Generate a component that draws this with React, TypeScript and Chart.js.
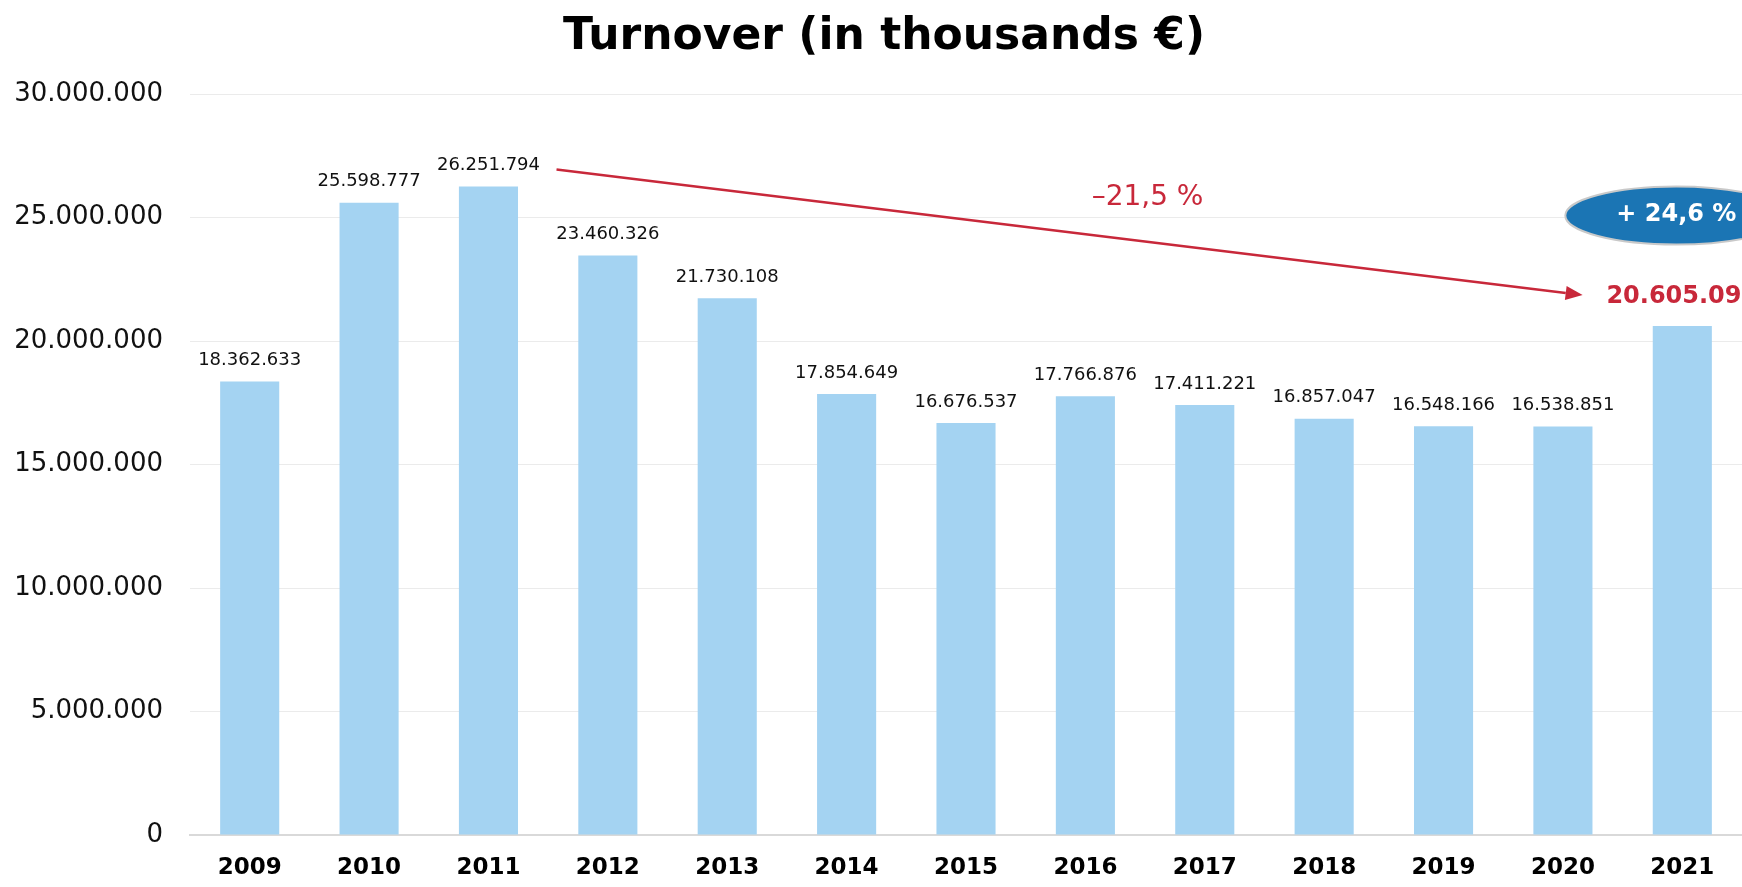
import React, { useEffect, useRef } from "react";
import { Chart, registerables } from "chart.js";

Chart.register(...registerables);

const years = ["2009", "2010", "2011", "2012", "2013", "2014", "2015", "2016", "2017", "2018", "2019", "2020", "2021"];
const turnover = [18362633, 25598777, 26251794, 23460326, 21730108, 17854649, 16676537, 17766876, 17411221, 16857047, 16548166, 16538851, 20605097];
const yMax = 30000000;
const yStep = 5000000;
const titleText = "Turnover (in thousands €)";
const declineLabel = "–21,5 %";
const growthLabel = "+ 24,6 %";
const peakIndex = 2;
const lastIndex = 12;

const FONT = "'DejaVu Sans', sans-serif";
const BAR_COLOR = "#a4d3f2";
const RED = "#c8283a";
const BLUE = "#1b75b4";

function fmt(n: number): string {
  return String(Math.round(n)).replace(/\B(?=(\d{3})+(?!\d))/g, ".");
}

const titlePlugin = {
  id: "turnoverTitle",
  afterDraw(chart: any) {
    const ctx = chart.ctx as CanvasRenderingContext2D;
    ctx.save();
    ctx.font = `bold 44px ${FONT}`;
    ctx.fillStyle = "#000";
    ctx.textAlign = "center";
    ctx.textBaseline = "middle";
    ctx.fillText(titleText, (chart.width + 26) / 2, 38);
    ctx.restore();
  },
};

const annotationPlugin = {
  id: "turnoverAnnotations",
  afterDatasetsDraw(chart: any) {
    const ctx = chart.ctx as CanvasRenderingContext2D;
    const xs = chart.scales.x;
    const ys = chart.scales.y;
    const meta = chart.getDatasetMeta(0);
    const catW = xs.getPixelForValue(1) - xs.getPixelForValue(0);
    ctx.save();
    // value labels
    meta.data.forEach((bar: any, i: number) => {
      const v = turnover[i];
      ctx.textAlign = "center";
      ctx.textBaseline = "middle";
      if (i === lastIndex) {
        ctx.font = `bold 24px ${FONT}`;
        ctx.fillStyle = RED;
        ctx.fillText(fmt(v), bar.x, bar.y - 29);
      } else {
        ctx.font = `18px ${FONT}`;
        ctx.fillStyle = "#111";
        ctx.fillText(fmt(v), bar.x, bar.y - 21);
      }
    });
    // decline arrow from peak to last year
    const sx = xs.getPixelForValue(peakIndex) + 0.57 * catW;
    const sy = ys.getPixelForValue(turnover[peakIndex]) - 17;
    const ex = xs.getPixelForValue(lastIndex) - 0.835 * catW;
    const ey = ys.getPixelForValue(turnover[lastIndex]) - 31;
    const ang = Math.atan2(ey - sy, ex - sx);
    const headLen = 17;
    const headHalf = 7;
    ctx.strokeStyle = RED;
    ctx.fillStyle = RED;
    ctx.lineWidth = 2.5;
    const bx = ex - headLen * Math.cos(ang);
    const by = ey - headLen * Math.sin(ang);
    ctx.beginPath();
    ctx.moveTo(sx, sy);
    ctx.lineTo(bx, by);
    ctx.stroke();
    ctx.beginPath();
    ctx.moveTo(ex, ey);
    ctx.lineTo(bx + headHalf * Math.sin(ang), by - headHalf * Math.cos(ang));
    ctx.lineTo(bx - headHalf * Math.sin(ang), by + headHalf * Math.cos(ang));
    ctx.closePath();
    ctx.fill();
    // decline label
    const t = 0.576;
    const lx = sx + t * (ex - sx);
    const ly = sy + t * (ey - sy) - 44;
    ctx.font = `28px ${FONT}`;
    ctx.textAlign = "center";
    ctx.textBaseline = "middle";
    ctx.fillText(declineLabel, lx, ly);
    // growth ellipse
    const cx = xs.getPixelForValue(lastIndex) - 6;
    const cy = ys.getPixelForValue(25000000) - 2;
    ctx.beginPath();
    ctx.ellipse(cx, cy, 111, 29, 0, 0, Math.PI * 2);
    ctx.fillStyle = BLUE;
    ctx.fill();
    ctx.lineWidth = 2;
    ctx.strokeStyle = "#c9c9c9";
    ctx.stroke();
    ctx.fillStyle = "#ffffff";
    ctx.font = `bold 24px ${FONT}`;
    ctx.fillText(growthLabel, cx, cy - 1);
    ctx.restore();
  },
};

export default function App() {
  const canvasRef = useRef<HTMLCanvasElement | null>(null);

  useEffect(() => {
    if (!canvasRef.current) return;
    const chart = new Chart(canvasRef.current, {
      type: "bar",
      data: {
        labels: years,
        datasets: [
          {
            label: "Turnover",
            data: turnover,
            backgroundColor: BAR_COLOR,
            borderWidth: 0,
            categoryPercentage: 1,
            barPercentage: 0.495,
          },
        ],
      },
      options: {
        animation: false,
        responsive: false,
        maintainAspectRatio: false,
        layout: { padding: { left: 0, right: 0, top: 94, bottom: 0 } },
        plugins: {
          legend: { display: false },
          tooltip: { enabled: false },
          title: { display: false },
        },
        scales: {
          x: {
            grid: { display: false, drawTicks: false },
            border: { display: true, color: "#d9d9d9", width: 2 },
            ticks: {
              color: "#000",
              font: { family: FONT, size: 23, weight: "bold" },
              padding: 19,
              maxRotation: 0,
              autoSkip: false,
            },
            afterFit(scale: any) {
              scale.height = 52;
            },
          },
          y: {
            min: 0,
            max: yMax,
            grid: { color: "#ebebeb", lineWidth: 1, drawTicks: false },
            border: { display: false },
            ticks: {
              stepSize: yStep,
              color: "#111",
              font: { family: FONT, size: 26 },
              padding: 27,
              callback: (v: any) => fmt(Number(v)),
            },
            afterFit(scale: any) {
              scale.width = 190;
            },
          },
        },
      },
      plugins: [annotationPlugin, titlePlugin],
    });
    return () => chart.destroy();
  }, []);

  return (
    <div style={{ position: "fixed", left: 0, top: 0, width: 1742, height: 887, overflow: "hidden", background: "#fff" }}>
      <canvas
        ref={canvasRef}
        width={1742}
        height={887}
        role="img"
        aria-label={titleText}
        style={{ display: "block", width: 1742, height: 887 }}
      />
    </div>
  );
}
